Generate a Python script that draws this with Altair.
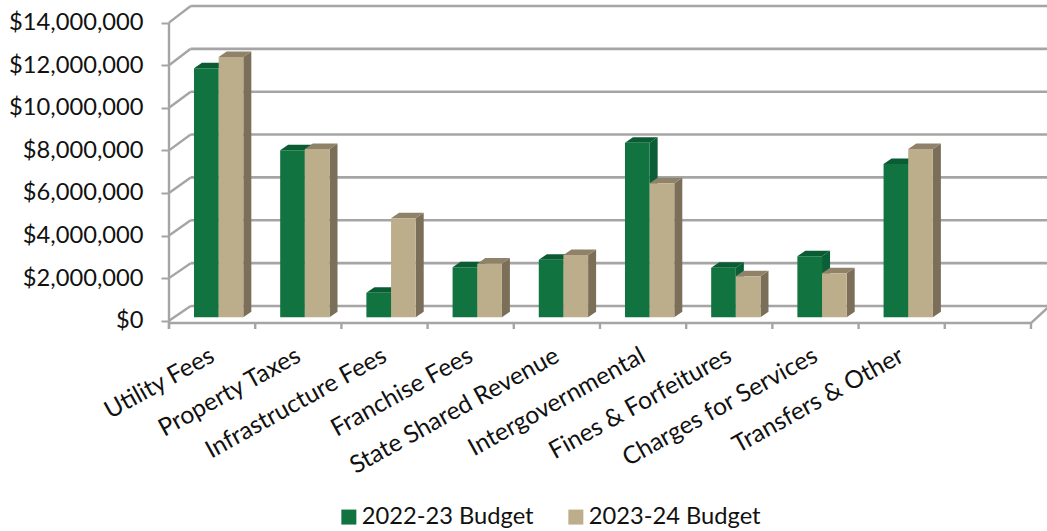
import json
import altair as alt
import pandas as pd

# Budget figures by revenue source
categories = ["Utility Fees", "Property Taxes", "Infrastructure Fees", "Franchise Fees",
              "State Shared Revenue", "Intergovernmental", "Fines & Forfeitures",
              "Charges for Services", "Transfers & Other"]
budget_2022 = [11_700_000, 7_850_000, 1_150_000, 2_350_000, 2_700_000,
               8_200_000, 2_330_000, 2_870_000, 7_200_000]
budget_2023 = [12_230_000, 7_900_000, 4_650_000, 2_520_000, 2_930_000,
               6_300_000, 1_930_000, 2_070_000, 7_900_000]
series_names = ["2022-23 Budget", "2023-24 Budget"]
y_ticks = [0, 2_000_000, 4_000_000, 6_000_000, 8_000_000, 10_000_000, 12_000_000, 14_000_000]

SLOTS = 10            # one empty slot follows the last category
X_MAX = 10.186
Y_MIN, Y_MAX = -390_000, 14_970_000

# Oblique projection: how far the wall and the bars recede, in data units
WALL_DX, WALL_DY, WALL_STRETCH = 0.2517, 690_000, 1.0067
BAR_DX, BAR_DY = 0.093, 260_000
BAR_BASE = 160_000
BAR_START, BAR_WIDTH = 0.29, 0.286

GRID = "#a5a5a5"
FONT = "Lato"
FRONT = ["#11733f", "#bcae8a"]
TOP = ["#0a5c33", "#8f8269"]
SIDE = ["#0b5f36", "#7b6f59"]

x_enc = alt.X("x:Q", scale=alt.Scale(domain=[0, X_MAX], nice=False, zero=False),
              axis=alt.Axis(title=None, values=[i + 0.5 for i in range(SLOTS)], domain=False,
                            ticks=False, grid=False, labelAngle=-29, labelAlign="right",
                            labelBaseline="middle", labelFont=FONT, labelFontSize=24.5,
                            labelColor="#111111", labelPadding=25, labelOffset=0, labelOverlap=False,
                            labelFlush=False, labelBound=False, labelLimit=400,
                            labelExpr=f"({json.dumps(categories)})[floor(datum.value)] || ''"))
y_enc = alt.Y("y:Q", stack=None, scale=alt.Scale(domain=[Y_MIN, Y_MAX], nice=False, zero=False),
              axis=alt.Axis(title=None, values=y_ticks, domain=False, grid=False,
                            format="$,.0f", tickSize=8, tickWidth=2, tickColor=GRID,
                            labelFont=FONT, labelFontSize=23.7, labelColor="#111111",
                            labelPadding=18))

# Wall frame: back gridlines, diagonals to the front axis, floor edges and the front axis
back_lines = pd.DataFrame({
    "x": [WALL_DX] * len(y_ticks), "x2": [X_MAX] * len(y_ticks),
    "y": [v * WALL_STRETCH + WALL_DY for v in y_ticks]})
diagonals = pd.DataFrame({
    "x": [0.0] * len(y_ticks), "x2": [WALL_DX] * len(y_ticks),
    "y": y_ticks, "y2": [v * WALL_STRETCH + WALL_DY for v in y_ticks]})
floor_edge = pd.DataFrame({"x": [0.0], "x2": [float(SLOTS)], "y": [-110_000.0]})
floor_right = pd.DataFrame({"x": [float(SLOTS)], "x2": [float(SLOTS) + 0.19],
                            "y": [-110_000.0], "y2": [600_000.0]})
front_axis = pd.DataFrame({"x": [0.0], "y": [Y_MIN], "y2": [14_000_000.0]})
slot_ticks = pd.DataFrame({"x": [float(i) for i in range(SLOTS + 1)],
                           "y": [Y_MIN] * (SLOTS + 1), "y2": [-110_000.0] * (SLOTS + 1)})

def rule(df, **channels):
    return alt.Chart(df).mark_rule(color=GRID, strokeWidth=2.4).encode(
        x=alt.X("x:Q"), y=alt.Y("y:Q", stack=None), **channels)

layers = [
    alt.Chart(back_lines).mark_rule(color=GRID, strokeWidth=2.6).encode(x=x_enc, y=y_enc, x2="x2:Q"),
    rule(diagonals, x2="x2:Q", y2="y2:Q"),
    rule(floor_edge, x2="x2:Q"),
    rule(floor_right, x2="x2:Q", y2="y2:Q"),
    rule(front_axis, y2="y2:Q"),
    rule(slot_ticks, y2="y2:Q"),
]

# Each bar: receding side and top faces first, front face over them
color_scale = alt.Scale(domain=series_names, range=FRONT)
legend = alt.Legend(title=None, orient="none", legendX=168, legendY=503, direction="horizontal",
                    symbolType="square", symbolSize=225, symbolStrokeWidth=0, labelFont=FONT,
                    labelFontSize=23.7, labelColor="#111111", columnPadding=30, labelOffset=1,
                    symbolOffset=0, labelLimit=300)

for s, values in enumerate([budget_2022, budget_2023]):
    top_rows, side_rows, front_rows = [], [], []
    for i, v in enumerate(values):
        left = i + BAR_START + s * BAR_WIDTH
        right = left + BAR_WIDTH
        head = BAR_BASE + v
        front_rows.append({"x": left, "x2": right, "y": BAR_BASE, "y2": head, "series": series_names[s]})
        side_rows += [
            {"bar": i, "x": right, "y": head, "y2": BAR_BASE},
            {"bar": i, "x": right + BAR_DX, "y": head + BAR_DY, "y2": BAR_BASE + BAR_DY},
        ]
        top_rows += [
            {"bar": i, "x": left, "y": head, "y2": head},
            {"bar": i, "x": left + BAR_DX, "y": head + BAR_DY, "y2": head},
            {"bar": i, "x": right, "y": head + BAR_DY, "y2": head},
            {"bar": i, "x": right + BAR_DX, "y": head + BAR_DY, "y2": head + BAR_DY},
        ]
    layers.append(alt.Chart(pd.DataFrame(side_rows)).mark_area(color=SIDE[s], orient="vertical").encode(
        x=alt.X("x:Q"), y=alt.Y("y:Q", stack=None), y2="y2:Q", detail="bar:N"))
    layers.append(alt.Chart(pd.DataFrame(top_rows)).mark_area(color=TOP[s], orient="vertical").encode(
        x=alt.X("x:Q"), y=alt.Y("y:Q", stack=None), y2="y2:Q", detail="bar:N"))
    layers.append(alt.Chart(pd.DataFrame(front_rows)).mark_rect().encode(
        x=alt.X("x:Q"), x2="x2:Q", y=alt.Y("y:Q", stack=None), y2="y2:Q",
        color=alt.Color("series:N", scale=color_scale, legend=legend)))

chart = alt.layer(*layers).properties(
    width=878, height=327, autosize=alt.AutoSizeParams(type="none"),
    padding={"left": 169, "top": 2, "right": 0, "bottom": 202},
    background="white",
).configure_view(stroke=None)

chart.save("out.html", embed_options={"renderer": "svg", "actions": False})
